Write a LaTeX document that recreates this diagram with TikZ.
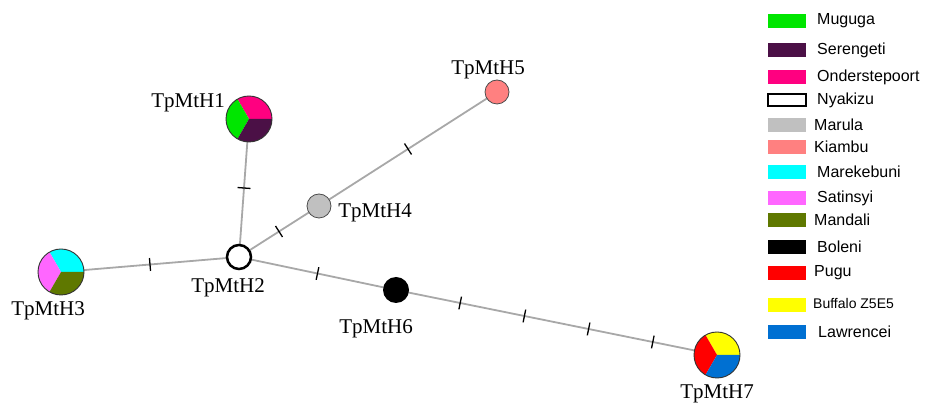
\documentclass[tikz,border=0pt]{standalone}
\usepackage{fontspec}
\setmainfont{Liberation Serif}
\setsansfont{Liberation Sans}
\usetikzlibrary{backgrounds}

\definecolor{muguga}{RGB}{0,230,0}
\definecolor{serengeti}{RGB}{75,16,70}
\definecolor{onderstepoort}{RGB}{255,0,128}
\definecolor{marula}{RGB}{192,192,192}
\definecolor{kiambu}{RGB}{255,128,128}
\definecolor{marekebuni}{RGB}{0,255,255}
\definecolor{satinsyi}{RGB}{255,102,255}
\definecolor{mandali}{RGB}{95,120,0}
\definecolor{pugu}{RGB}{255,0,0}
\definecolor{buffalo}{RGB}{255,255,0}
\definecolor{lawrencei}{RGB}{0,112,210}
\definecolor{linkgray}{RGB}{168,168,168}

\tikzset{
  hap/.style={circle, inner sep=0pt},
  pie/.style={hap, minimum size=46pt},
  hlabel/.style={font=\fontsize{21}{24}\selectfont},
  link/.style={draw, line width=1.8pt, linkgray},
  mtick/.style={sloped, draw=black, line width=1.3pt, inner sep=0pt, minimum width=0pt, minimum height=13pt},
  swatch/.style={rectangle, inner sep=0pt, minimum width=38pt, minimum height=14pt},
  legtext/.style={anchor=west, inner sep=0pt, font=\sffamily\fontsize{16}{18}\selectfont}
}

\begin{document}
\begin{tikzpicture}[x=10pt, y=10pt]
\useasboundingbox (0,0) rectangle (92.5,40.6);

% haplotypes
\node[pie] (h1) at (24.9,28.7) {};
\node[hap, draw, line width=2.5pt, fill=white, minimum size=24pt] (h2) at (23.9,14.9) {};
\node[pie] (h3) at (6.1,13.4) {};
\node[hap, draw=black!70, line width=0.8pt, fill=marula, minimum size=24pt] (h4) at (31.9,20.0) {};
\node[hap, draw=black!70, line width=0.8pt, fill=kiambu, minimum size=24pt] (h5) at (49.7,31.4) {};
\node[hap, fill=black, minimum size=26pt] (h6) at (39.6,11.6) {};
\node[pie] (h7) at (71.7,5.1) {};

% pie slices
\fill[onderstepoort] (h1.center) -- ++(0:23pt) arc[start angle=0, end angle=120, radius=23pt] -- cycle;
\fill[muguga] (h1.center) -- ++(120:23pt) arc[start angle=120, end angle=240, radius=23pt] -- cycle;
\fill[serengeti] (h1.center) -- ++(240:23pt) arc[start angle=240, end angle=360, radius=23pt] -- cycle;
\fill[marekebuni] (h3.center) -- ++(0:23pt) arc[start angle=0, end angle=120, radius=23pt] -- cycle;
\fill[satinsyi] (h3.center) -- ++(120:23pt) arc[start angle=120, end angle=240, radius=23pt] -- cycle;
\fill[mandali] (h3.center) -- ++(240:23pt) arc[start angle=240, end angle=360, radius=23pt] -- cycle;
\fill[buffalo] (h7.center) -- ++(0:23pt) arc[start angle=0, end angle=120, radius=23pt] -- cycle;
\fill[pugu] (h7.center) -- ++(120:23pt) arc[start angle=120, end angle=240, radius=23pt] -- cycle;
\fill[lawrencei] (h7.center) -- ++(240:23pt) arc[start angle=240, end angle=360, radius=23pt] -- cycle;
\draw[black!80, line width=0.9pt] (h1.center) circle[radius=23pt];
\draw[black!80, line width=0.9pt] (h3.center) circle[radius=23pt];
\draw[black!80, line width=0.9pt] (h7.center) circle[radius=23pt];

% links with mutation steps
\begin{scope}[on background layer]
\path[link] (h1.center) -- node[mtick, pos=0.5] (m1) {} (h2.center);
\path[link] (h3.center) -- node[mtick, pos=0.5] (m2) {} (h2.center);
\path[link] (h2.center) -- node[mtick, pos=0.5] (m3) {} (h4.center);
\path[link] (h4.center) -- node[mtick, pos=0.5] (m4) {} (h5.center);
\path[link] (h2.center) -- node[mtick, pos=0.5] (m5) {} (h6.center);
\path[link] (h6.center) -- node[mtick, pos=0.2] (m6) {} node[mtick, pos=0.4] (m7) {}
  node[mtick, pos=0.6] (m8) {} node[mtick, pos=0.8] (m9) {} (h7.center);
\end{scope}

% names
\node[hlabel] (l1) at (18.8,30.3) {TpMtH1};
\node[hlabel] (l2) at (22.8,11.8) {TpMtH2};
\node[hlabel] (l3) at (4.8,9.5) {TpMtH3};
\node[hlabel] (l4) at (37.5,19.3) {TpMtH4};
\node[hlabel] (l5) at (48.8,33.6) {TpMtH5};
\node[hlabel] (l6) at (37.6,7.7) {TpMtH6};
\node[hlabel] (l7) at (71.7,1.2) {TpMtH7};

% legend
\node[swatch, fill=muguga] (s1) at (78.7,38.5) {};
\node[legtext] (t1) at (81.7,38.5) {Muguga};
\node[swatch, fill=serengeti] (s2) at (78.7,35.6) {};
\node[legtext] (t2) at (81.7,35.6) {Serengeti};
\node[swatch, fill=onderstepoort] (s3) at (78.7,32.9) {};
\node[legtext] (t3) at (81.7,32.9) {Onderstepoort};
\node[swatch, draw, line width=1.3pt, minimum height=12pt] (s4) at (78.7,30.6) {};
\node[legtext] (t4) at (81.7,30.6) {Nyakizu};
\node[swatch, fill=marula] (s5) at (78.7,28.1) {};
\node[legtext] (t5) at (81.4,28.1) {Marula};
\node[swatch, fill=kiambu] (s6) at (78.7,25.9) {};
\node[legtext] (t6) at (81.4,25.9) {Kiambu};
\node[swatch, fill=marekebuni] (s7) at (78.7,23.4) {};
\node[legtext] (t7) at (81.7,23.4) {Marekebuni};
\node[swatch, fill=satinsyi] (s8) at (78.7,20.8) {};
\node[legtext] (t8) at (81.7,20.8) {Satinsyi};
\node[swatch, fill=mandali] (s9) at (78.7,18.6) {};
\node[legtext] (t9) at (81.4,18.6) {Mandali};
\node[swatch, fill=black] (s10) at (78.7,15.9) {};
\node[legtext] (t10) at (81.7,15.9) {Boleni};
\node[swatch, fill=pugu] (s11) at (78.7,13.3) {};
\node[legtext] (t11) at (81.4,13.3) {Pugu};
\node[swatch, fill=buffalo] (s12) at (78.7,10.1) {};
\node[legtext, font=\sffamily\fontsize{14}{16}\selectfont] (t12) at (81.3,10.3) {Buffalo Z5E5};
\node[swatch, fill=lawrencei] (s13) at (78.7,7.4) {};
\node[legtext] (t13) at (81.8,7.4) {Lawrencei};
\end{tikzpicture}
\end{document}
